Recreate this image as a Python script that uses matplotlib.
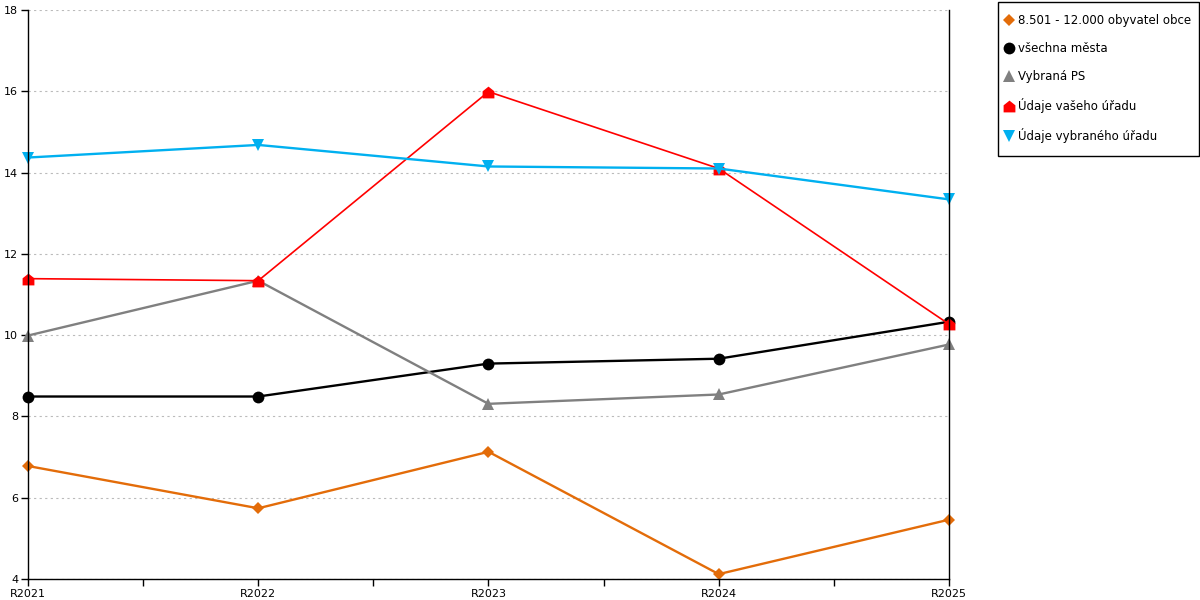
import matplotlib
matplotlib.use("Agg")
import matplotlib.pyplot as plt
from matplotlib.lines import Line2D
from matplotlib.patches import Rectangle
from matplotlib.path import Path
from matplotlib.ticker import MultipleLocator

years = ["R2021", "R2022", "R2023", "R2024", "R2025"]

obce = [6.78, 5.74, 7.13, 4.12, 5.46]
mesta = [8.49, 8.49, 9.30, 9.42, 10.33]
vybrana_ps = [9.99, 11.34, 8.31, 8.54, 9.77]
vas_urad = [11.39, 11.34, 15.99, 14.10, 10.27]
vybrany_urad = [14.37, 14.68, 14.15, 14.10, 13.34]

labels = ["8.501 - 12.000 obyvatel obce", "všechna města", "Vybraná PS",
          "Údaje vašeho úřadu", "Údaje vybraného úřadu"]

# house shaped marker for the red series
house = Path([(-1, -1), (1, -1), (1, 0.2), (0, 1), (-1, 0.2), (-1, -1)],
             [Path.MOVETO, Path.LINETO, Path.LINETO, Path.LINETO, Path.LINETO, Path.CLOSEPOLY])

series = [
    (obce, "#E36C09", "D", 6.5, 1.7),
    (mesta, "#000000", "o", 8.5, 1.7),
    (vybrana_ps, "#808080", "^", 8.5, 1.7),
    (vas_urad, "#FF0000", house, 8.5, 1.2),
    (vybrany_urad, "#00B0F0", "v", 8.5, 1.7),
]

plt.rcParams["font.family"] = ["DejaVu Sans"]

fig = plt.figure(figsize=(12, 6), dpi=100)
ax = fig.add_axes([28 / 1200, 21 / 600, (949 - 28) / 1200, (579 - 10) / 600])

x = list(range(len(years)))
handles = []
for (vals, col, mk, ms, lw), lab in zip(series, labels):
    ax.plot(x, vals, color=col, lw=lw, marker=mk, markersize=ms,
            markeredgewidth=0, clip_on=False)
    handles.append(Line2D([], [], color=col, marker=mk, linestyle="none",
                          markersize=ms, markeredgewidth=0, label=lab))

ax.set_xlim(0, len(years) - 1)
ax.set_ylim(4, 18)
ax.set_xticks(x)
ax.set_xticklabels(years)
ax.xaxis.set_minor_locator(MultipleLocator(0.5))
ax.yaxis.set_major_locator(MultipleLocator(2))
ax.tick_params(axis="both", labelsize=8, length=5, width=1, color="black", direction="out", pad=2)
ax.tick_params(axis="x", which="minor", length=5, width=1)
ax.tick_params(axis="y", which="minor", left=False)
ax.grid(axis="y", color="#bbbbbb", linestyle=(0, (2, 3)), linewidth=0.8)
ax.set_axisbelow(True)
ax.spines["top"].set_visible(False)
for s in ["left", "bottom", "right"]:
    ax.spines[s].set_linewidth(1)
    ax.spines[s].set_color("black")

# legend box drawn separately so its size matches the original
fig.patches.append(Rectangle((998 / 1200, 1 - 156 / 600), 201 / 1200, 154 / 600,
                             transform=fig.transFigure, fill=True, facecolor="white",
                             edgecolor="black", linewidth=1))
fig.legend(handles=handles, loc="upper left", bbox_to_anchor=(1004 / 1200, 1 - 14 / 600),
           fontsize=8.5, frameon=False, borderpad=0, labelspacing=1.28, handlelength=0.8,
           handletextpad=0.35, borderaxespad=0)

fig.savefig("out.png", dpi=100)
